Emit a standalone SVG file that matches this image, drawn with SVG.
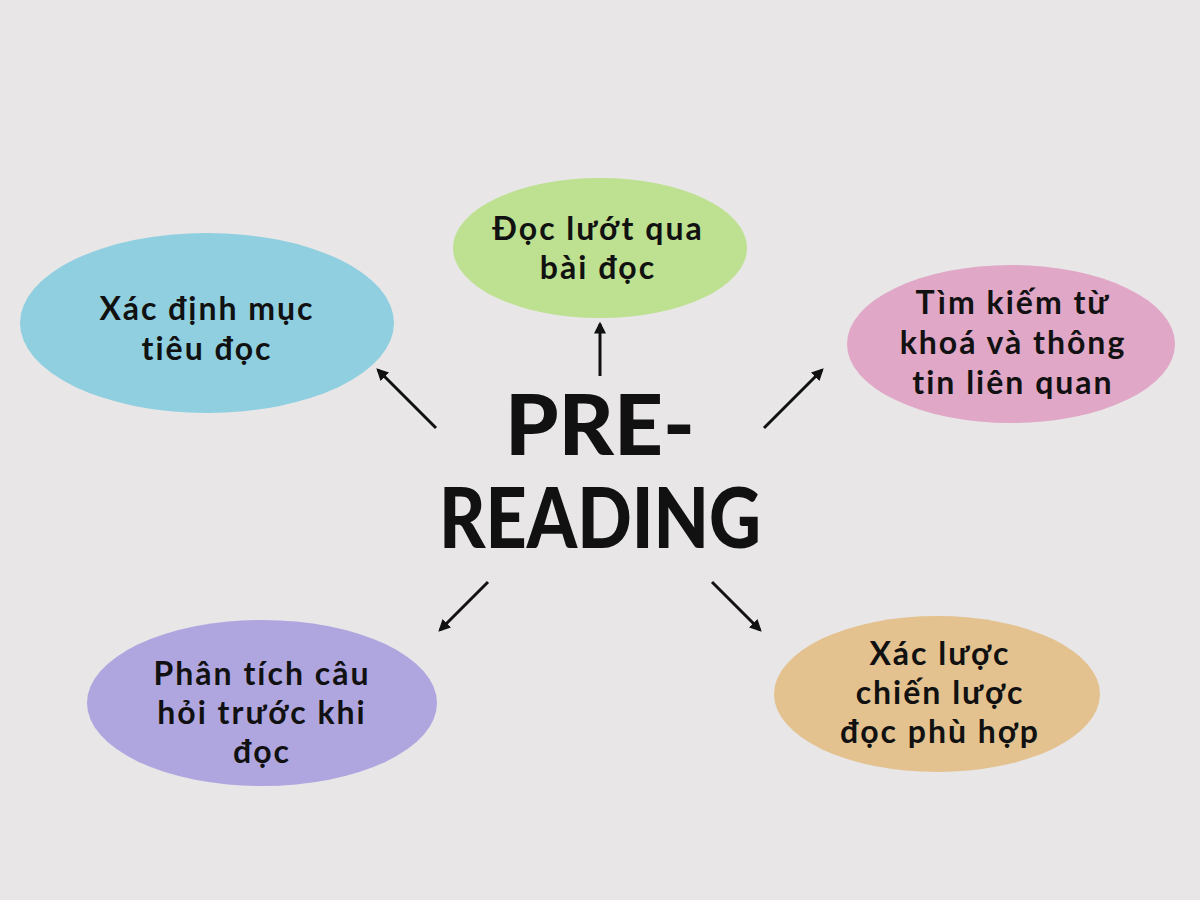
<svg xmlns="http://www.w3.org/2000/svg" width="1200" height="900" viewBox="0 0 1200 900">
<defs>
<style>
.lbl{font-family:"Lato","Open Sans","Noto Sans",sans-serif;font-weight:700;font-size:32px;fill:#111;text-anchor:middle;letter-spacing:2px}
.title{font-family:"Lato","DejaVu Sans",sans-serif;font-weight:900;font-size:84px;fill:#111;text-anchor:middle}
.con{stroke:#111;stroke-width:3;fill:none;marker-end:url(#ah)}
</style>
<marker id="ah" viewBox="0 0 10 10" refX="8" refY="5" markerWidth="4" markerHeight="4" orient="auto" markerUnits="strokeWidth">
<path d="M0,0 L10,5 L0,10 z" fill="#111"/>
</marker>
</defs>
<rect width="1200" height="900" fill="#e8e6e7"/>
<g id="connectors">
<line class="con" x1="436" y1="428" x2="378" y2="370"/>
<line class="con" x1="600" y1="376" x2="600" y2="324"/>
<line class="con" x1="764" y1="428" x2="822" y2="370"/>
<line class="con" x1="488" y1="582" x2="440" y2="630"/>
<line class="con" x1="712" y1="582" x2="760" y2="630"/>
</g>
<g id="center">
<text class="title" x="600" y="455" textLength="190" lengthAdjust="spacingAndGlyphs">PRE-</text>
<text class="title" x="600" y="548" textLength="322" lengthAdjust="spacingAndGlyphs">READING</text>
</g>
<g id="n1">
<ellipse cx="207" cy="323" rx="187" ry="90" fill="#8fcfe0"/>
<text class="lbl" x="207" y="320">Xác định mục</text>
<text class="lbl" x="207" y="360">tiêu đọc</text>
</g>
<g id="n2">
<ellipse cx="600" cy="248" rx="147" ry="70" fill="#bde190"/>
<text class="lbl" x="598" y="240">Đọc lướt qua</text>
<text class="lbl" x="598" y="279">bài đọc</text>
</g>
<g id="n3">
<ellipse cx="1011" cy="344" rx="164" ry="79" fill="#e0a7c6"/>
<text class="lbl" x="1013" y="314">Tìm kiếm từ</text>
<text class="lbl" x="1013" y="354">khoá và thông</text>
<text class="lbl" x="1013" y="394">tin liên quan</text>
</g>
<g id="n4">
<ellipse cx="262" cy="703" rx="175" ry="83" fill="#afa6e0"/>
<text class="lbl" x="262" y="685">Phân tích câu</text>
<text class="lbl" x="262" y="724">hỏi trước khi</text>
<text class="lbl" x="262" y="763">đọc</text>
</g>
<g id="n5">
<ellipse cx="937" cy="694" rx="163" ry="78" fill="#e3c28f"/>
<text class="lbl" x="940" y="665">Xác lược</text>
<text class="lbl" x="940" y="704">chiến lược</text>
<text class="lbl" x="940" y="743">đọc phù hợp</text>
</g>
</svg>
